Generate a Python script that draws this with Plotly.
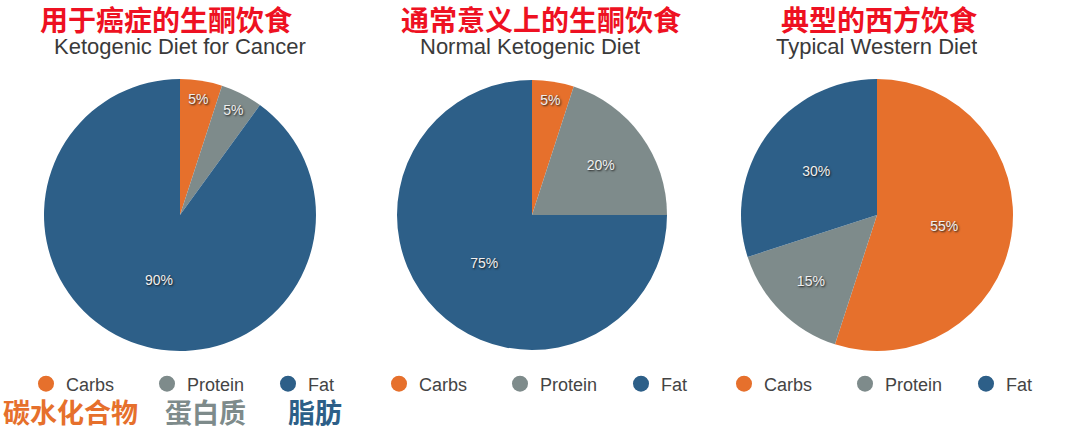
import plotly.graph_objects as go

categories = ["Carbs", "Protein", "Fat"]
cancer_keto = [5, 5, 90]
normal_keto = [5, 20, 75]
western = [55, 15, 30]
titles_cn = ["用于癌症的生酮饮食", "通常意义上的生酮饮食", "典型的西方饮食"]
titles_en = ["Ketogenic Diet for Cancer", "Normal Ketogenic Diet", "Typical Western Diet"]
bottom_cn = ["碳水化合物", "蛋白质", "脂肪"]

colors = ["#E6702C", "#7E8B8B", "#2D5F88"]
W, H = 1080, 430

def px(x0, x1):
    return [x0 / W, x1 / W]

domains_x = [px(44, 316), px(397, 667), px(741, 1013)]
dom_y = [(H - 351) / H, (H - 79) / H]
title_cx = [166, 541, 879]
sub_cx = [180, 530, 876]
series = [cancer_keto, normal_keto, western]
legend_names = ["legend", "legend2", "legend3"]

fig = go.Figure()
for i, vals in enumerate(series):
    fig.add_trace(go.Pie(
        labels=categories, values=vals, sort=False, direction="clockwise",
        rotation=0, domain=dict(x=domains_x[i], y=dom_y),
        marker=dict(colors=colors, line=dict(width=0)),
        textinfo="percent", texttemplate="%{value}%", textposition="inside",
        insidetextorientation="horizontal",
        textfont=dict(family="Liberation Sans, Arial", size=14, color="#f0f0f0",
                      shadow="1px 1px 2px #1a1a1a"),
        showlegend=False, hoverinfo="label+percent",
    ))
    for c, col in zip(categories, colors):
        fig.add_trace(go.Scatter(
            x=[None], y=[None], mode="markers", name=c,
            marker=dict(symbol="circle", size=18, color=col),
            legend=legend_names[i], showlegend=True,
        ))

annotations = []
for i in range(3):
    annotations.append(dict(
        x=title_cx[i] / W, y=1, xref="paper", yref="paper",
        text="<b>" + titles_cn[i] + "</b>", showarrow=False,
        font=dict(family="Noto Sans CJK SC", size=28, color="#EE1122"),
        xanchor="center", yanchor="top", borderpad=0, height=35, valign="middle"))
    annotations.append(dict(
        x=sub_cx[i] / W, y=1 - 46 / H, xref="paper", yref="paper",
        text=titles_en[i], showarrow=False,
        font=dict(family="Liberation Sans, Arial", size=22, color="#3a3a3a"),
        xanchor="center", yanchor="middle", borderpad=0, height=28, valign="middle"))

bottom_x = [2, 164, 287]
for t, col, x in zip(bottom_cn, colors, bottom_x):
    annotations.append(dict(
        x=x / W, y=0, xref="paper", yref="paper",
        text="<b>" + t + "</b>", showarrow=False,
        font=dict(family="Noto Sans CJK SC", size=27, color=col),
        xanchor="left", yanchor="bottom", borderpad=0, height=36, valign="middle"))

legend_x = [26, 379, 724]
legend_common = dict(orientation="h", yanchor="middle", xanchor="left",
                     font=dict(family="Liberation Sans, Arial", size=18, color="#444444"),
                     bgcolor="rgba(0,0,0,0)", itemwidth=30,
                     entrywidth=76, entrywidthmode="pixels")
layout_legends = {}
for name, lx in zip(legend_names, legend_x):
    layout_legends[name] = dict(x=lx / W, y=1 - 384 / H, **legend_common)

fig.update_layout(
    width=W, height=H, margin=dict(l=0, r=0, t=0, b=0, autoexpand=False),
    paper_bgcolor="white", plot_bgcolor="white",
    xaxis=dict(visible=False), yaxis=dict(visible=False),
    annotations=annotations,
    uniformtext=dict(minsize=14, mode="show"),
    **layout_legends,
)
fig.write_html("out.html", config={"responsive": False, "displayModeBar": False},
               post_script="document.body.style.margin='0px';document.body.style.overflow='hidden';")
